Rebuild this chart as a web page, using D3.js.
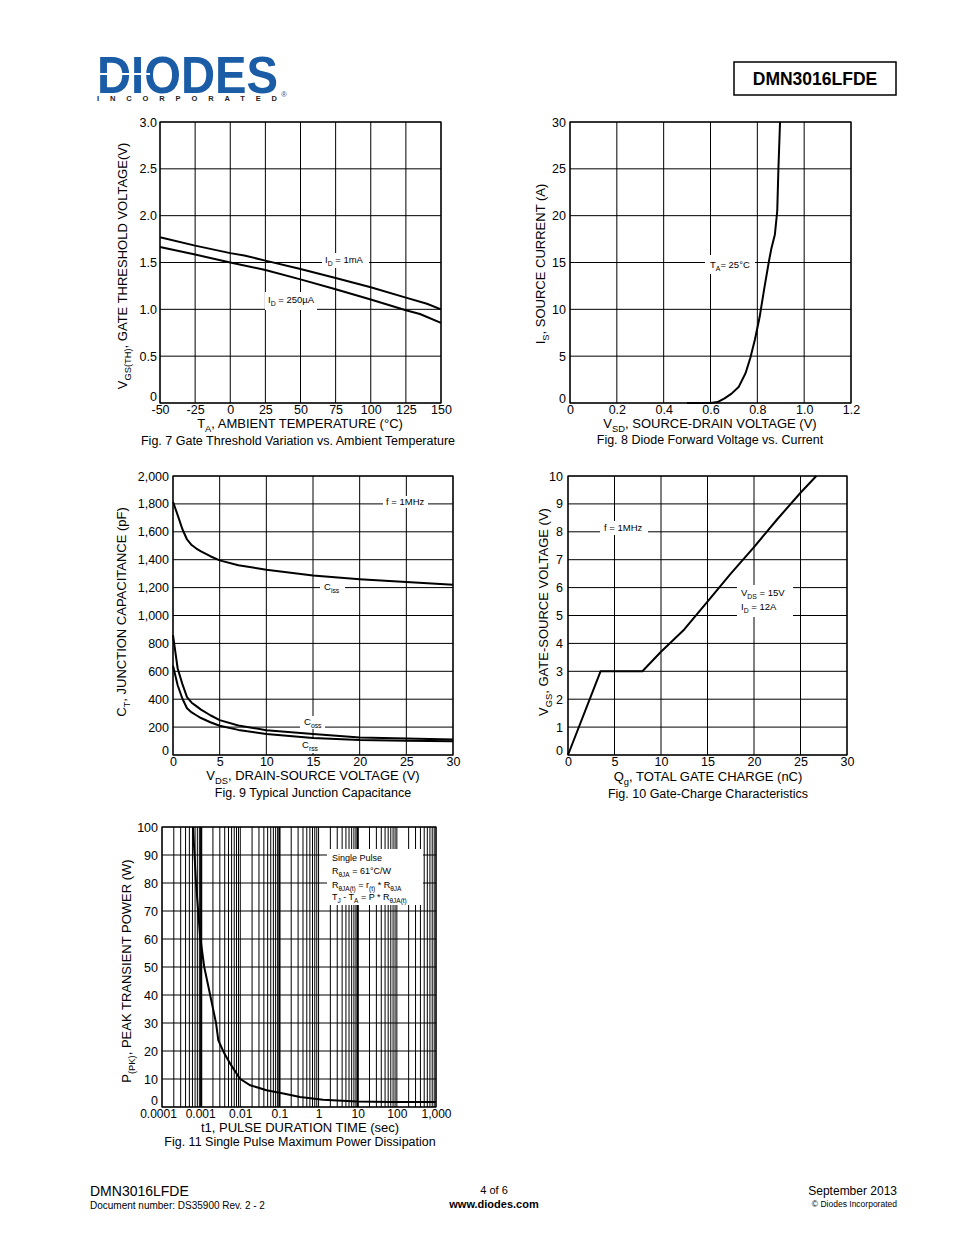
<!DOCTYPE html>
<html><head><meta charset="utf-8">
<script src="https://cdn.jsdelivr.net/npm/d3@7/dist/d3.min.js"></script>
<style>
body{margin:0;background:#fff}
svg{display:block;font-family:"Liberation Sans",Arial,Helvetica,sans-serif}
</style>
</head><body>
<svg id="page" width="954" height="1235"></svg>
<script>
// ---------------- DATA ----------------
// Fig. 7 Gate threshold vs ambient temperature
const fig7TempHi = [-50, -25, 0, 10, 25, 50, 75, 100, 125, 140, 150];
const fig7Vth1mA = [1.77, 1.68, 1.60, 1.575, 1.52, 1.43, 1.335, 1.235, 1.125, 1.06, 1.0];
const fig7TempLo = [-50, -25, 0, 25, 50, 75, 100, 125, 135, 150];
const fig7Vth250uA = [1.665, 1.585, 1.50, 1.42, 1.32, 1.215, 1.105, 0.99, 0.95, 0.855];
const fig7XTicks = [-50, -25, 0, 25, 50, 75, 100, 125, 150];
const fig7XLabels = ["-50", "-25", "0", "25", "50", "75", "100", "125", "150"];
const fig7YTicks = [0, 0.5, 1.0, 1.5, 2.0, 2.5, 3.0];
const fig7YLabels = ["0", "0.5", "1.0", "1.5", "2.0", "2.5", "3.0"];

// Fig. 8 Diode forward voltage vs current
const fig8Vsd = [0.5, 0.6, 0.63, 0.66, 0.69, 0.72, 0.75, 0.77, 0.79, 0.81, 0.83, 0.85, 0.86, 0.875, 0.885, 0.89, 0.897];
const fig8Is = [0, 0, 0.1, 0.5, 1.0, 1.7, 3.2, 4.8, 6.8, 9.2, 12.3, 15.2, 16.5, 18, 20.5, 25, 30];
const fig8XTicks = [0, 0.2, 0.4, 0.6, 0.8, 1.0, 1.2];
const fig8XLabels = ["0", "0.2", "0.4", "0.6", "0.8", "1.0", "1.2"];
const fig8YTicks = [0, 5, 10, 15, 20, 25, 30];

// Fig. 9 Typical junction capacitance
const fig9Vds = [0, 0.5, 1, 1.5, 2, 2.5, 3, 4, 5, 7, 10, 15, 20, 25, 30];
const fig9Ciss = [1815, 1720, 1620, 1545, 1505, 1480, 1460, 1425, 1395, 1360, 1328, 1287, 1260, 1240, 1220];
const fig9Coss = [860, 620, 510, 415, 375, 350, 325, 285, 250, 212, 178, 150, 125, 118, 112];
const fig9Crss = [640, 500, 405, 335, 305, 285, 265, 235, 210, 180, 150, 122, 108, 103, 98];
const fig9XTicks = [0, 5, 10, 15, 20, 25, 30];
const fig9YTicks = [0, 200, 400, 600, 800, 1000, 1200, 1400, 1600, 1800, 2000];

// Fig. 10 Gate charge
const fig10Qg = [0, 3.5, 8, 10, 12.5, 15, 17.5, 20, 22.5, 25, 26.7];
const fig10Vgs = [0, 3.0, 3.0, 3.7, 4.5, 5.5, 6.5, 7.45, 8.45, 9.4, 10];
const fig10XTicks = [0, 5, 10, 15, 20, 25, 30];
const fig10YTicks = [0, 1, 2, 3, 4, 5, 6, 7, 8, 9, 10];

// Fig. 11 Single pulse maximum power dissipation
const fig11T = [6.2e-4, 7.4e-4, 9.4e-4, 1.2e-3, 1.7e-3, 2.4e-3, 2.75e-3, 3.8e-3, 5.5e-3, 9.8e-3, 1.8e-2, 4.7e-2, 0.126, 0.336, 1.3, 9.4, 67, 1000];
const fig11P = [100, 80, 61, 50, 40, 30, 23.8, 19.5, 15.5, 10.1, 7.75, 6, 4.8, 3.6, 2.6, 2.0, 1.8, 1.8];
const fig11XTicks = [1e-4, 1e-3, 1e-2, 1e-1, 1, 10, 100, 1000];
const fig11XLabels = ["0.0001", "0.001", "0.01", "0.1", "1", "10", "100", "1,000"];
const fig11YTicks = [0, 10, 20, 30, 40, 50, 60, 70, 80, 90, 100];
const fig11Thick = [1e-3, 1e-1, 10];

// ---------------- DRAWING ----------------
const svg = d3.select("#page");
svg.append("rect").attr("width", 954).attr("height", 1235).attr("fill", "#fff");

function rich(t, str, fs) {
  const parts = str.split(/(_\{[^}]*\})/).filter(s => s.length);
  let inSub = false;
  parts.forEach(p => {
    const m = p.match(/^_\{(.*)\}$/);
    if (m) {
      t.append("tspan").attr("font-size", fs * 0.72).attr("dy", fs * 0.28).text(m[1]);
      inSub = true;
    } else {
      const s = t.append("tspan").text(p);
      if (inSub) { s.attr("dy", -fs * 0.28); inSub = false; }
    }
  });
  return t;
}
function txt(g, x, y, str, fs, anchor, rot) {
  const t = g.append("text").attr("font-size", fs).attr("fill", "#000")
    .attr("text-anchor", anchor || "start");
  if (rot) t.attr("transform", `translate(${x},${y}) rotate(${rot})`);
  else t.attr("x", x).attr("y", y);
  return rich(t, str, fs);
}
function note(g, bg, items, fs) {
  g.append("rect").attr("x", bg[0]).attr("y", bg[1]).attr("width", bg[2]).attr("height", bg[3]).attr("fill", "#fff");
  items.forEach(it => txt(g, it[0], it[1], it[2], fs, "start"));
}

function chart(c) {
  const g = svg.append("g");
  const b = c.box;
  const x = (c.log ? d3.scaleLog() : d3.scaleLinear()).domain(c.xDomain).range([b.x0, b.x1]);
  const y = d3.scaleLinear().domain(c.yDomain).range([b.y1, b.y0]);
  // grid
  g.append("g").selectAll("line").data(c.xGrid).join("line")
    .attr("x1", d => x(d)).attr("x2", d => x(d)).attr("y1", b.y0).attr("y2", b.y1)
    .attr("stroke", "#000").attr("stroke-width", d => (c.thick && c.thick.some(v => Math.abs(v - d) / v < 1e-6)) ? 2.2 : 1);
  g.append("g").selectAll("line").data(c.yTicks).join("line")
    .attr("x1", b.x0).attr("x2", b.x1).attr("y1", d => y(d)).attr("y2", d => y(d))
    .attr("stroke", "#000").attr("stroke-width", 1);
  // frame
  g.append("rect").attr("x", b.x0).attr("y", b.y0).attr("width", b.x1 - b.x0).attr("height", b.y1 - b.y0)
    .attr("fill", "none").attr("stroke", "#000").attr("stroke-width", 1.2);
  // axes (labels only)
  const ax = g.append("g").attr("transform", `translate(0,${b.y1})`)
    .call(d3.axisBottom(x).tickValues(c.xTicks).tickFormat((d, i) => c.xLabels ? c.xLabels[i] : d3.format(",")(d)).tickSize(0).tickPadding(2));
  ax.select(".domain").remove();
  ax.selectAll("text").attr("font-size", c.xFont || 12.5).attr("fill", "#000").attr("font-family", null);
  if (c.xShift) ax.selectAll("text").attr("dx", (d, i) => c.xShift[i] || 0);
  const ay = g.append("g").attr("transform", `translate(${b.x0},0)`)
    .call(d3.axisLeft(y).tickValues(c.yTicks).tickFormat((d, i) => c.yLabels ? c.yLabels[i] : d3.format(",")(d)).tickSize(0).tickPadding(c.yPad || 4));
  ay.select(".domain").remove();
  ay.selectAll("text").attr("font-size", 12.5).attr("fill", "#000").attr("font-family", null);
  // lift the zero label a little, as in the reference
  ay.selectAll(".tick").filter(d => d === c.yDomain[0]).select("text").attr("dy", c.zeroDy || "-0.05em");
  // notes (white boxes over grid)
  if (c.notes) c.notes(g);
  // series
  const line = d3.line().x(d => x(d[0])).y(d => y(d[1]));
  c.series.forEach(s => {
    g.append("path").datum(d3.zip(s.x, s.y)).attr("d", line)
      .attr("fill", "none").attr("stroke", "#000").attr("stroke-width", 2).attr("stroke-linejoin", "round");
  });
  // titles
  txt(g, c.xTitlePos[0], c.xTitlePos[1], c.xTitle, 13, "middle");
  txt(g, c.capPos[0], c.capPos[1], c.caption, 12.5, "middle");
  txt(g, c.yTitlePos[0], c.yTitlePos[1], c.yTitle, 13, "middle", -90);
}

// Fig 7
chart({
  box: {x0: 160, x1: 441, y0: 122, y1: 403},
  xDomain: [-50, 150], yDomain: [0, 3],
  xTicks: fig7XTicks, xLabels: fig7XLabels, xGrid: fig7XTicks, yTicks: fig7YTicks, yLabels: fig7YLabels, yPad: 3,
  zeroDy: "-0.22em",
  series: [{x: fig7TempHi, y: fig7Vth1mA}, {x: fig7TempLo, y: fig7Vth250uA}],
  notes: g => {
    note(g, [322, 253, 47, 15], [[325, 263, "I_{D} = 1mA"]], 9.5);
    note(g, [265, 292, 52, 18], [[268, 303, "I_{D} = 250\u00b5A"]], 9.5);
  },
  xTitle: "T_{A}, AMBIENT TEMPERATURE (\u00b0C)", xTitlePos: [300, 428],
  caption: "Fig. 7 Gate Threshold Variation vs. Ambient Temperature", capPos: [298, 445],
  yTitle: "V_{GS(TH)}, GATE THRESHOLD VOLTAGE(V)", yTitlePos: [127, 266]
});

// Fig 8
chart({
  box: {x0: 570, x1: 851, y0: 122, y1: 403},
  xDomain: [0, 1.2], yDomain: [0, 30],
  xTicks: fig8XTicks, xLabels: fig8XLabels, xGrid: fig8XTicks, yTicks: fig8YTicks,
  series: [{x: fig8Vsd, y: fig8Is}],
  notes: g => {
    note(g, [705, 255, 50, 19], [[710, 268, "T_{A}= 25\u00b0C"]], 9.5);
  },
  xTitle: "V_{SD}, SOURCE-DRAIN VOLTAGE (V)", xTitlePos: [710, 428],
  caption: "Fig. 8 Diode Forward Voltage vs. Current", capPos: [710, 444],
  yTitle: "I_{S}, SOURCE CURRENT (A)", yTitlePos: [545, 264]
});

// Fig 9
chart({
  box: {x0: 173, x1: 453, y0: 476, y1: 755},
  xDomain: [0, 30], yDomain: [0, 2000],
  xTicks: fig9XTicks, xGrid: fig9XTicks, yTicks: fig9YTicks,
  series: [{x: fig9Vds, y: fig9Ciss}, {x: fig9Vds, y: fig9Coss}, {x: fig9Vds, y: fig9Crss}],
  notes: g => {
    note(g, [383, 496, 45, 12], [[386, 505, "f = 1MHz"]], 9.5);
    note(g, [320, 580, 25, 15], [[324, 590, "C_{iss}"]], 9.5);
    note(g, [300, 716, 25, 13], [[304, 725, "C_{oss}"]], 9.5);
    note(g, [298, 739, 24, 14], [[302, 748, "C_{rss}"]], 9.5);
  },
  xTitle: "V_{DS}, DRAIN-SOURCE VOLTAGE (V)", xTitlePos: [313, 780],
  caption: "Fig. 9 Typical Junction Capacitance", capPos: [313, 797],
  yTitle: "C_{T}, JUNCTION CAPACITANCE (pF)", yTitlePos: [126, 612]
});

// Fig 10
chart({
  box: {x0: 568, x1: 847, y0: 476, y1: 755},
  xDomain: [0, 30], yDomain: [0, 10],
  xTicks: fig10XTicks, xGrid: fig10XTicks, yTicks: fig10YTicks, yPad: 5,
  series: [{x: fig10Qg, y: fig10Vgs}],
  notes: g => {
    note(g, [600, 521, 48, 14], [[604, 531, "f = 1MHz"]], 9.5);
    note(g, [737, 585, 56, 32], [[741, 596, "V_{DS} = 15V"], [741, 610, "I_{D} = 12A"]], 9.5);
  },
  xTitle: "Q_{g}, TOTAL GATE CHARGE (nC)", xTitlePos: [708, 781],
  caption: "Fig. 10 Gate-Charge Characteristics", capPos: [708, 798],
  yTitle: "V_{GS}, GATE-SOURCE VOLTAGE (V)", yTitlePos: [548, 612]
});

// Fig 11
const fig11Grid = [];
for (let k = -4; k < 3; k++) for (let m = 1; m < 10; m++) fig11Grid.push(m * Math.pow(10, k));
fig11Grid.push(1000);
chart({
  box: {x0: 162, x1: 436, y0: 827, y1: 1107},
  log: true, xDomain: [1e-4, 1e3], yDomain: [0, 100],
  xTicks: fig11XTicks, xLabels: fig11XLabels, xShift: [-4, -1, 0, 0, 0, 0, 0, 0], xFont: 12,
  xGrid: fig11Grid, thick: fig11Thick, yTicks: fig11YTicks, zeroDy: "-0.22em",
  series: [{x: fig11T, y: fig11P}],
  notes: g => {
    note(g, [327, 849, 96, 56], [
      [332, 861, "Single Pulse"],
      [332, 874, "R_{\u03b8JA} = 61\u00b0C/W"],
      [332, 888, "R_{\u03b8JA(t)} = r_{(t)} * R_{\u03b8JA}"],
      [332, 900, "T_{J} - T_{A} = P * R_{\u03b8JA(t)}"]
    ], 9);
  },
  xTitle: "t1, PULSE DURATION TIME (sec)", xTitlePos: [300, 1132],
  caption: "Fig. 11 Single Pulse Maximum Power Dissipation", capPos: [300, 1146],
  yTitle: "P_{(PK)}, PEAK TRANSIENT POWER (W)", yTitlePos: [131, 971]
});

// ---------------- HEADER ----------------
const blue = "#1b5ca6";
svg.append("text").attr("x", 97).attr("y", 93).attr("font-size", 52).attr("font-weight", "bold")
  .attr("fill", blue).attr("textLength", 181).attr("lengthAdjust", "spacingAndGlyphs").text("DIODES");
svg.append("line").attr("x1", 97).attr("x2", 150).attr("y1", 74).attr("y2", 74).attr("stroke", "#fff").attr("stroke-width", 2);
svg.append("text").attr("x", 97).attr("y", 101).attr("font-size", 7.5).attr("font-weight", "bold")
  .attr("fill", "#222").attr("textLength", 180).attr("lengthAdjust", "spacing").text("INCORPORATED");
svg.append("text").attr("x", 281).attr("y", 97).attr("font-size", 8).attr("fill", blue).text("\u00ae");

svg.append("rect").attr("x", 734).attr("y", 62).attr("width", 162).attr("height", 33)
  .attr("fill", "none").attr("stroke", "#000").attr("stroke-width", 1.5);
svg.append("text").attr("x", 815).attr("y", 85).attr("font-size", 17.5).attr("font-weight", "bold")
  .attr("text-anchor", "middle").text("DMN3016LFDE");

// ---------------- FOOTER ----------------
svg.append("text").attr("x", 90).attr("y", 1196).attr("font-size", 14).text("DMN3016LFDE");
svg.append("text").attr("x", 90).attr("y", 1209).attr("font-size", 10).text("Document number: DS35900 Rev. 2 - 2");
svg.append("text").attr("x", 494).attr("y", 1194).attr("font-size", 11).attr("text-anchor", "middle").text("4 of 6");
svg.append("text").attr("x", 494).attr("y", 1208).attr("font-size", 11).attr("font-weight", "bold").attr("text-anchor", "middle").text("www.diodes.com");
svg.append("text").attr("x", 897).attr("y", 1195).attr("font-size", 12).attr("text-anchor", "end").text("September 2013");
svg.append("text").attr("x", 897).attr("y", 1207).attr("font-size", 8.5).attr("text-anchor", "end").text("\u00a9 Diodes Incorporated");
</script>
</body></html>
